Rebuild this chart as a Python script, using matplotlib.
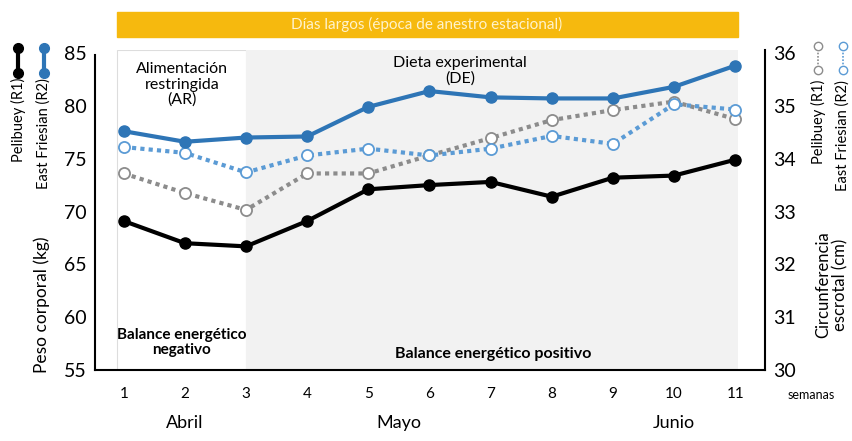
import matplotlib
matplotlib.use("Agg")
import matplotlib.pyplot as plt
from matplotlib.lines import Line2D

plt.rcParams["font.family"] = ["Lato", "DejaVu Sans"]

weeks = list(range(1, 12))
peso_pelibuey = [69.1, 67.0, 66.7, 69.1, 72.1, 72.5, 72.8, 71.4, 73.2, 73.4, 74.9]
peso_friesian = [77.6, 76.6, 77.0, 77.1, 79.9, 81.4, 80.8, 80.7, 80.7, 81.8, 83.8]
ce_pelibuey = [33.72, 33.35, 33.03, 33.72, 33.72, 34.06, 34.39, 34.73, 34.92, 35.08, 34.75]
ce_friesian = [34.22, 34.11, 33.74, 34.06, 34.19, 34.06, 34.19, 34.43, 34.28, 35.03, 34.93]
months = ["Abril", "Mayo", "Junio"]
month_pos = [2, 5.5, 10]

BLACK = "#000000"
BLUE = "#2E75B6"
GRAY = "#8C8C8C"
LBLUE = "#5B9BD5"

fig = plt.figure(figsize=(8.53, 4.41), dpi=100)
ax = fig.add_axes([0.111, 0.161, 0.786, 0.726])
ax2 = ax.twinx()

ax.set_xlim(0.525, 11.49)
ax.set_ylim(55, 85.3)
ax2.set_ylim(30, 36.06)

# phase backgrounds (on the lower axes so every line sits above them)
ax2.axvspan(0.89, 3, color="white", ec="#DDDDDD", lw=0.8, zorder=0)
ax2.axvspan(3, 11.05, color="#F2F2F2", lw=0, zorder=0)

ax2.plot(weeks, ce_pelibuey, ls=(0, (1, 1)), color=GRAY, lw=3, marker="o",
         ms=8, mfc="white", mec=GRAY, mew=1.3, zorder=3)
ax2.plot(weeks, ce_friesian, ls=(0, (1, 1)), color=LBLUE, lw=3, marker="o",
         ms=8, mfc="white", mec=LBLUE, mew=1.3, zorder=3)
ax.plot(weeks, peso_pelibuey, color=BLACK, lw=3, marker="o", ms=8, zorder=4)
ax.plot(weeks, peso_friesian, color=BLUE, lw=3, marker="o", ms=8, zorder=4)
ax.set_zorder(ax2.get_zorder() + 1)
ax.patch.set_visible(False)
ax2.patch.set_visible(False)

for a in (ax, ax2):
    a.tick_params(length=0)
    a.spines["top"].set_visible(False)
ax.spines["right"].set_visible(False)
ax2.spines["left"].set_visible(False)
ax.spines["left"].set_bounds(55, 84.8)
ax2.spines["right"].set_bounds(30, 36.06)
for s in ("left", "bottom"):
    ax.spines[s].set_linewidth(1.5)
ax2.spines["right"].set_linewidth(1.5)
ax2.spines["bottom"].set_visible(False)

ax.set_yticks([55, 60, 65, 70, 75, 80, 85])
ax.tick_params(axis="y", labelsize=14, pad=6)
ax2.set_yticks([30, 31, 32, 33, 34, 35, 36])
ax2.tick_params(axis="y", labelsize=14, pad=6)
ax.set_xticks(weeks)
ax.tick_params(axis="x", labelsize=11, pad=12)

for m, p in zip(months, month_pos):
    ax.text(p, -0.165, m, transform=ax.get_xaxis_transform(), ha="center",
            va="center", fontsize=13)
ax.text(11.85, -0.077, "semanas", transform=ax.get_xaxis_transform(),
        ha="left", va="center", fontsize=9)

# phase annotations
ax.text(1.95, 82.0, "Alimentación\nrestringida\n(AR)", ha="center",
        va="center", fontsize=11.5, linespacing=1.1)
ax.text(6.5, 83.3, "Dieta experimental\n(DE)", ha="center", va="center",
        fontsize=11.5, linespacing=1.1)
ax.text(1.95, 57.6, "Balance energético\nnegativo", ha="center",
        va="center", fontsize=11, fontweight="bold", linespacing=1.15)
ax.text(7.05, 56.5, "Balance energético positivo", ha="center",
        va="center", fontsize=11.5, fontweight="bold")

# top banner
fig.patches.append(plt.Rectangle((117 / 853, 1 - 37 / 441), 621 / 853, 25 / 441,
                                 transform=fig.transFigure, color="#F6B90E",
                                 zorder=0))
fig.text(427 / 853, 1 - 24 / 441, "Días largos (época de anestro estacional)",
         ha="center", va="center", fontsize=11, color="#FFF3CC")

# left axis labels and key
fig.text(42 / 853, 1 - 305 / 441, "Peso corporal (kg)", rotation=90,
         ha="center", va="center", fontsize=12.5)
fig.text(18 / 853, 1 - 78 / 441, "Pelibuey (R1)", rotation=90,
         ha="center", va="top", fontsize=10.5)
fig.text(44 / 853, 1 - 78 / 441, "East Friesian (R2)", rotation=90,
         ha="center", va="top", fontsize=10.5)
for xp, c in ((18, BLACK), (44, BLUE)):
    fig.add_artist(Line2D([xp / 853, xp / 853], [1 - 48 / 441, 1 - 73 / 441],
                          color=c, lw=3, marker="o", ms=7,
                          transform=fig.transFigure))

# right axis labels and key
fig.text(818 / 853, 1 - 80 / 441, "Pelibuey (R1)", rotation=90,
         ha="center", va="top", fontsize=10.5)
fig.text(843 / 853, 1 - 80 / 441, "East Friesian (R2)", rotation=90,
         ha="center", va="top", fontsize=10.5)
for xp, c in ((818, GRAY), (843, LBLUE)):
    fig.add_artist(Line2D([xp / 853, xp / 853], [1 - 46 / 441, 1 - 70 / 441],
                          color=c, lw=1.2, ls=(0, (1, 1)), marker="o", ms=6,
                          mfc="white", mec=c, transform=fig.transFigure))
fig.text(832 / 853, 1 - 285 / 441, "Circunferencia\nescrotal (cm)",
         rotation=90, ha="center", va="center", fontsize=12,
         linespacing=1.1)

fig.savefig("out.png", dpi=100, facecolor="white")
